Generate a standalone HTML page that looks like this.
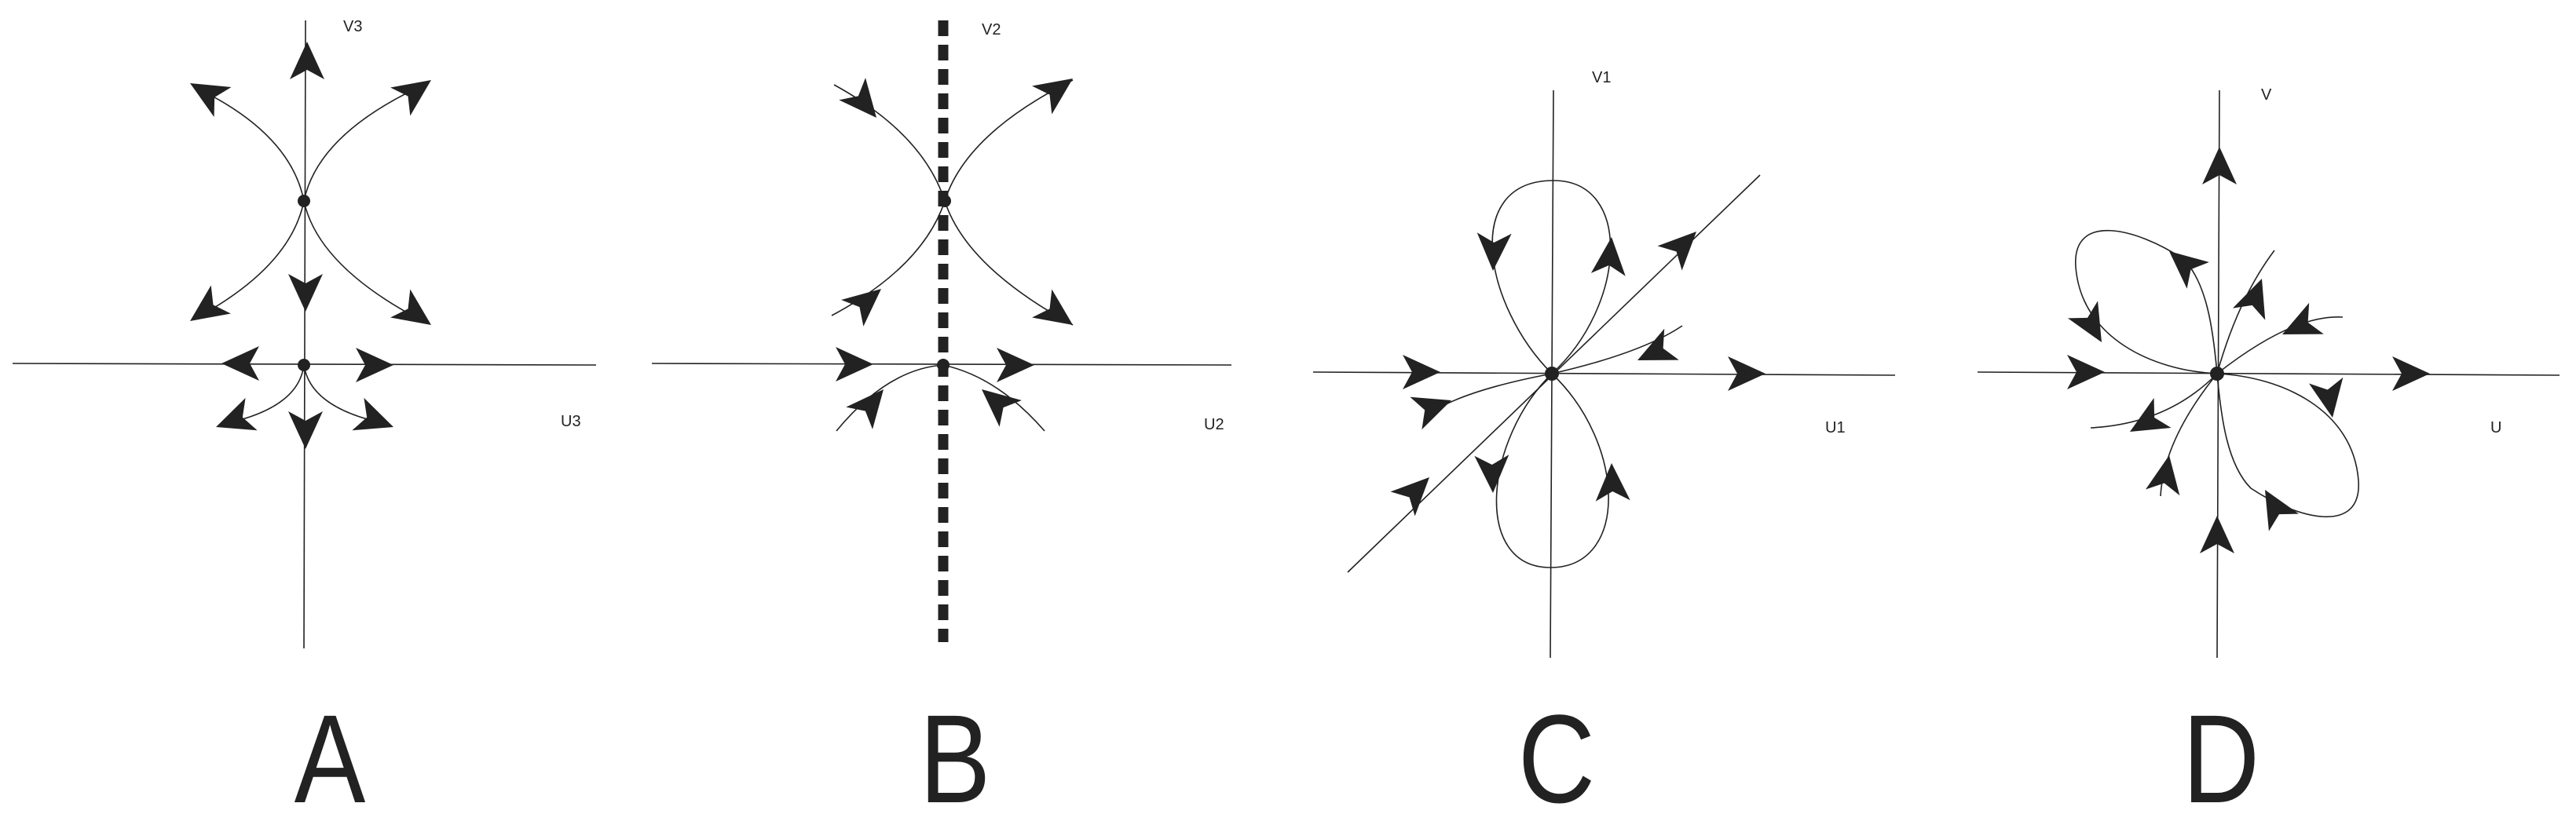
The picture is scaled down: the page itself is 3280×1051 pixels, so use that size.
<!DOCTYPE html>
<html><head><meta charset="utf-8"><style>
html,body{margin:0;padding:0;background:#fff;width:3280px;height:1051px;overflow:hidden}
svg{display:block}
.l{fill:none;stroke:#222;stroke-width:1.6}
.t{font-family:"Liberation Sans",sans-serif;font-size:20px;fill:#222}
.big{font-family:"Liberation Sans",sans-serif;font-size:160px;fill:#222}
</style></head><body>
<svg width="3280" height="1051" viewBox="0 0 3280 1051" xmlns="http://www.w3.org/2000/svg">
<defs><path id="a" d="M0,0 L-48,-22 L-36,0 L-48,22 Z" fill="#222"/></defs>

<!-- Panel A -->
<line class="l" x1="389" y1="26" x2="387" y2="826"/>
<line class="l" x1="16" y1="463" x2="759" y2="465"/>
<path class="l" d="M387,256 Q370,170 250,112"/>
<path class="l" d="M387,256 Q405,170 540,108"/>
<path class="l" d="M387,256 Q370,340 250,405"/>
<path class="l" d="M387,256 Q405,340 540,410"/>
<path class="l" d="M387,465 Q380,520 285,540"/>
<path class="l" d="M387,465 Q395,520 492,540"/>
<circle cx="387" cy="256" r="8" fill="#222"/>
<circle cx="387" cy="465" r="8" fill="#222"/>
<use href="#a" transform="translate(391,53) rotate(-90)"/>
<use href="#a" transform="translate(242,106) rotate(-150)"/>
<use href="#a" transform="translate(549,102) rotate(-35)"/>
<use href="#a" transform="translate(242,409) rotate(145)"/>
<use href="#a" transform="translate(549,414) rotate(35)"/>
<use href="#a" transform="translate(389,397) rotate(90)"/>
<use href="#a" transform="translate(282,463) rotate(180)"/>
<use href="#a" transform="translate(501,465) rotate(0)"/>
<use href="#a" transform="translate(275,544) rotate(160)"/>
<use href="#a" transform="translate(501,544) rotate(20)"/>
<use href="#a" transform="translate(389,572) rotate(90)"/>
<text class="t" x="437" y="40">V3</text>
<text class="t" x="714" y="543">U3</text>
<text class="big" x="420" y="1022" text-anchor="middle" transform="translate(420,0) scale(0.85,1) translate(-420,0)">A</text>

<!-- Panel B -->
<line class="l" x1="830" y1="463" x2="1568" y2="465"/>
<path class="l" d="M1062,108 Q1175,170 1203,256"/>
<path class="l" d="M1203,256 Q1230,170 1366,102"/>
<path class="l" d="M1059,402 Q1175,340 1203,256"/>
<path class="l" d="M1203,256 Q1230,340 1366,414"/>
<path class="l" d="M1065,549 Q1130,470 1201,465"/>
<path class="l" d="M1201,465 Q1270,480 1330,549"/>
<line x1="1201" y1="26" x2="1201" y2="818" stroke="#222" stroke-width="13" stroke-dasharray="20,11"/>
<circle cx="1203" cy="256" r="8" fill="#222"/>
<circle cx="1201" cy="465" r="8" fill="#222"/>
<use href="#a" transform="translate(1116,150) rotate(50)"/>
<use href="#a" transform="translate(1366,100) rotate(-35)"/>
<use href="#a" transform="translate(1122,368) rotate(-40)"/>
<use href="#a" transform="translate(1366,414) rotate(35)"/>
<use href="#a" transform="translate(1112,464) rotate(0)"/>
<use href="#a" transform="translate(1317,465) rotate(0)"/>
<use href="#a" transform="translate(1125,496) rotate(-50)"/>
<use href="#a" transform="translate(1250,496) rotate(-140)"/>
<text class="t" x="1250" y="44">V2</text>
<text class="t" x="1533" y="547">U2</text>
<text class="big" x="1216" y="1022" text-anchor="middle" transform="translate(1216,0) scale(0.85,1) translate(-1216,0)">B</text>

<!-- Panel C -->
<line class="l" x1="1978" y1="115" x2="1974" y2="838"/>
<line class="l" x1="1672" y1="474" x2="2413" y2="478"/>
<line class="l" x1="1716" y1="729" x2="2241" y2="223"/>
<path class="l" d="M1976,476 C1890,390 1860,230 1978,230 C2080,230 2070,390 1976,476"/>
<path class="l" d="M1976,476 C1890,560 1875,723 1974,723 C2075,723 2070,565 1976,476"/>
<path class="l" d="M1976,476 Q2090,450 2142,415"/>
<path class="l" d="M1976,476 Q1850,500 1813,533"/>
<circle cx="1976" cy="476" r="9" fill="#222"/>
<use href="#a" transform="translate(1834,474) rotate(0)"/>
<use href="#a" transform="translate(2248,476) rotate(0)"/>
<use href="#a" transform="translate(1901,345) rotate(92)"/>
<use href="#a" transform="translate(2052,302) rotate(-85)"/>
<use href="#a" transform="translate(1901,628) rotate(88)"/>
<use href="#a" transform="translate(2052,590) rotate(-92)"/>
<use href="#a" transform="translate(2160,295) rotate(-45)"/>
<use href="#a" transform="translate(1820,608) rotate(-45)"/>
<use href="#a" transform="translate(2085,459) rotate(155)"/>
<use href="#a" transform="translate(1848,510) rotate(-20)"/>
<text class="t" x="2027" y="105">V1</text>
<text class="t" x="2324" y="551">U1</text>
<text class="big" x="1982" y="1022" text-anchor="middle" transform="translate(1982,0) scale(0.85,1) translate(-1982,0)">C</text>

<!-- Panel D -->
<line class="l" x1="2826" y1="115" x2="2823" y2="838"/>
<line class="l" x1="2518" y1="474" x2="3259" y2="478"/>
<path class="l" d="M2823,476 C2740,472 2650,430 2643,340 C2638,270 2720,290 2780,330 C2810,360 2818,420 2823,476"/>
<path class="l" d="M2823,476 C2906,480 2996,522 3003,612 C3008,682 2926,662 2866,622 C2836,592 2828,532 2823,476"/>
<path class="l" d="M2823,476 Q2850,380 2896,319"/>
<path class="l" d="M2823,476 Q2920,400 2983,404"/>
<path class="l" d="M2662,545 Q2760,540 2823,476"/>
<path class="l" d="M2751,632 Q2755,560 2823,476"/>
<circle cx="2823" cy="476" r="9" fill="#222"/>
<use href="#a" transform="translate(2826,187) rotate(-90)"/>
<use href="#a" transform="translate(2823,657) rotate(-90)"/>
<use href="#a" transform="translate(2680,474) rotate(0)"/>
<use href="#a" transform="translate(3094,476) rotate(0)"/>
<use href="#a" transform="translate(2762,320) rotate(-140)"/>
<use href="#a" transform="translate(2676,436) rotate(60)"/>
<use href="#a" transform="translate(2970,532) rotate(80)"/>
<use href="#a" transform="translate(2884,624) rotate(-120)"/>
<use href="#a" transform="translate(2880,355) rotate(-70)"/>
<use href="#a" transform="translate(2906,426) rotate(155)"/>
<use href="#a" transform="translate(2712,550) rotate(150)"/>
<use href="#a" transform="translate(2762,580) rotate(-80)"/>
<text class="t" x="2879" y="127">V</text>
<text class="t" x="3171" y="551">U</text>
<text class="big" x="2828" y="1022" text-anchor="middle" transform="translate(2828,0) scale(0.85,1) translate(-2828,0)">D</text>
</svg>
</body></html>
